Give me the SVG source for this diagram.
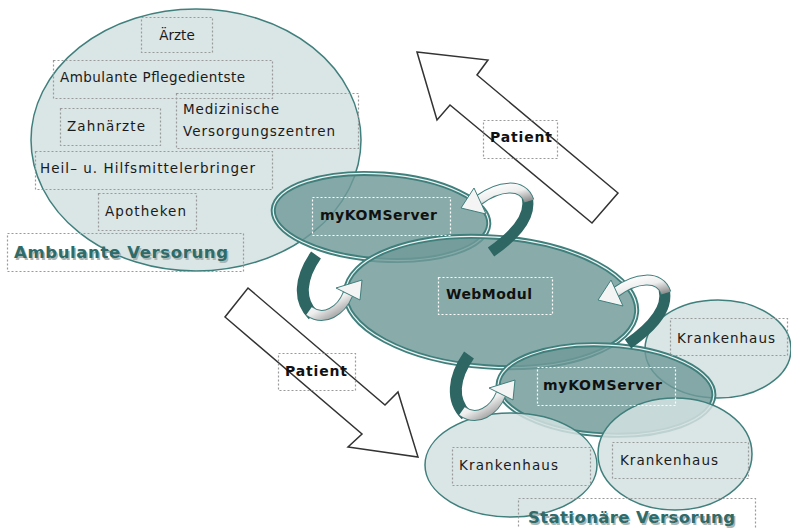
<svg xmlns="http://www.w3.org/2000/svg" width="791" height="528" viewBox="0 0 791 528">
<defs>
<style>
.light{fill:#d3e1e0;fill-opacity:0.85;stroke:#3f7f7c;stroke-width:1.5}
.darkO{fill:none;stroke:#3f7f7c;stroke-width:5}
.darkF{fill:#6f9a98;fill-opacity:0.82}
.darkI{fill:none;stroke:#ffffff;stroke-width:1.2;stroke-opacity:0.9}
.box{fill:none;stroke:#9a9a9a;stroke-width:1.2;stroke-dasharray:2,2}
.wbox{fill:none;stroke:#ffffff;stroke-width:1.2;stroke-dasharray:2,2}
.t{font-family:"DejaVu Sans",Verdana,sans-serif;font-size:13.5px;fill:#1a1a1a}
.b{font-family:"DejaVu Sans",Verdana,sans-serif;font-size:14px;font-weight:bold;fill:#111}
.sec{font-family:"DejaVu Sans",Verdana,sans-serif;font-size:16.5px;font-weight:bold;fill:#2e6b69}
.secS{font-family:"DejaVu Sans",Verdana,sans-serif;font-size:16.5px;font-weight:bold;fill:#a9b4b4}
.pat{fill:#ffffff;stroke:#333333;stroke-width:1.5;stroke-linejoin:miter}
.rib{fill:none;stroke:#2d6663;stroke-linecap:butt}
.wrib{fill:none;stroke-linecap:butt}
</style>
<linearGradient id="wg" x1="0" y1="0" x2="1" y2="1">
<stop offset="0" stop-color="#ffffff"/>
<stop offset="0.5" stop-color="#eeeeee"/>
<stop offset="1" stop-color="#8c8c8c"/>
</linearGradient>
<g id="curlA">
<path class="rib" stroke-width="12" d="M316,255 C300,278 298,300 313,315"/>
<path class="wrib" stroke="#3f7f7c" stroke-width="11" d="M309,311 C324,322 341,311 348,294"/>
<path class="wrib" stroke="url(#wg)" stroke-width="9" d="M309,311 C324,322 341,311 348,294"/>
<polygon points="336,288 362,280 360,300" fill="#f4f4f4" stroke="#3f7f7c" stroke-width="1"/>
</g>
<g id="curlB">
<path class="rib" stroke-width="11" d="M527,197 C533,220 508,240 491,252"/>
<path class="wrib" stroke="#3f7f7c" stroke-width="11" d="M529,201 C523,182 498,186 479,200"/>
<path class="wrib" stroke="url(#wg)" stroke-width="9" d="M529,201 C523,182 498,186 479,200"/>
<polygon points="474,188 461,208 486,214" fill="#f4f4f4" stroke="#3f7f7c" stroke-width="1"/>
</g>
</defs>
<rect width="791" height="528" fill="#ffffff"/>

<g id="patient-up">
<polygon class="pat" points="417,52 488,60 477,75 618,193 592,223 450,105 437,120"/>
</g>
<g id="patient-down">
<polygon class="pat" points="248,288 385,405 398,392 418,457 348,447 362,434 225,317"/>
</g>

<g id="ambulant">
<ellipse class="light" cx="196" cy="140" rx="165" ry="131"/>
</g>

<g id="krankenhaus-right">
<ellipse class="light" cx="718" cy="349" rx="73" ry="49"/>
</g>

<g id="mykom-top">
<g transform="rotate(4 381 217)">
<ellipse class="darkF" cx="381" cy="217" rx="108" ry="43"/>
<ellipse class="darkO" cx="381" cy="217" rx="108" ry="43"/>
<ellipse class="darkI" cx="381" cy="217" rx="108" ry="43"/>
</g>
</g>

<g id="webmodul">
<g transform="rotate(4 491 302)">
<ellipse class="darkF" cx="491" cy="302" rx="146" ry="65"/>
<ellipse class="darkO" cx="491" cy="302" rx="146" ry="65"/>
<ellipse class="darkI" cx="491" cy="302" rx="146" ry="65"/>
</g>
</g>

<g id="mykom-bottom">
<g transform="rotate(3 606 390)">
<ellipse class="darkF" cx="606" cy="390" rx="108" ry="45"/>
<ellipse class="darkO" cx="606" cy="390" rx="108" ry="45"/>
<ellipse class="darkI" cx="606" cy="390" rx="108" ry="45"/>
</g>
</g>

<g id="krankenhaus-bl">
<ellipse class="light" cx="511" cy="465" rx="86" ry="52"/>
</g>
<g id="krankenhaus-br">
<ellipse class="light" cx="675" cy="454" rx="77" ry="56"/>
</g>

<g id="connectors">
<use href="#curlA"/>
<use href="#curlA" transform="translate(153,100)"/>
<use href="#curlB"/>
<use href="#curlB" transform="translate(137,92)"/>
</g>

<g id="labels">
<rect class="box" x="141.5" y="17.5" width="71" height="35"/>
<text class="t" x="177" y="40" text-anchor="middle">Ärzte</text>

<rect class="box" x="53.5" y="60.5" width="219" height="38"/>
<text class="t" x="60" y="82" textLength="185" lengthAdjust="spacing">Ambulante Pflegedientste</text>

<rect class="box" x="60.5" y="108.5" width="100" height="37"/>
<text class="t" x="67" y="131" textLength="78" lengthAdjust="spacing">Zahnärzte</text>

<rect class="box" x="176.5" y="93.5" width="182" height="55"/>
<text class="t" x="183" y="114" textLength="96" lengthAdjust="spacing">Medizinische</text>
<text class="t" x="183" y="136" textLength="152" lengthAdjust="spacing">Versorgungszentren</text>

<rect class="box" x="35.5" y="151.5" width="237" height="38"/>
<text class="t" x="40" y="173" textLength="215" lengthAdjust="spacing">Heil– u. Hilfsmittelerbringer</text>

<rect class="box" x="98.5" y="193.5" width="98" height="37"/>
<text class="t" x="105" y="216" textLength="81" lengthAdjust="spacing">Apotheken</text>

<rect class="box" x="7.5" y="233.5" width="236" height="38"/>
<text class="secS" x="15.5" y="259.5" textLength="214" lengthAdjust="spacing">Ambulante Versorung</text>
<text class="sec" x="14" y="258" textLength="214" lengthAdjust="spacing">Ambulante Versorung</text>

<rect class="wbox" x="312.5" y="197.5" width="138" height="38"/>
<text class="b" x="320" y="220" textLength="117" lengthAdjust="spacing">myKOMServer</text>

<rect class="wbox" x="438.5" y="277.5" width="114" height="37"/>
<text class="b" x="446" y="299" textLength="86" lengthAdjust="spacing">WebModul</text>

<rect class="wbox" x="537.5" y="367.5" width="138" height="38"/>
<text class="b" x="543" y="390" textLength="119" lengthAdjust="spacing">myKOMServer</text>

<rect class="box" x="670.5" y="318.5" width="117" height="37"/>
<text class="t" x="677" y="343" textLength="98" lengthAdjust="spacing">Krankenhaus</text>

<rect class="box" x="452.5" y="447.5" width="138" height="38"/>
<text class="t" x="459" y="470" textLength="99" lengthAdjust="spacing">Krankenhaus</text>

<rect class="box" x="612.5" y="442.5" width="136" height="36"/>
<text class="t" x="620" y="465" textLength="98" lengthAdjust="spacing">Krankenhaus</text>

<rect class="box" x="518.5" y="498.5" width="237" height="35"/>
<text class="secS" x="529.5" y="524.5" textLength="207" lengthAdjust="spacing">Stationäre Versorung</text>
<text class="sec" x="528" y="523" textLength="207" lengthAdjust="spacing">Stationäre Versorung</text>

<rect class="box" x="483.5" y="120.5" width="74" height="38"/>
<text class="b" x="490" y="142" textLength="62" lengthAdjust="spacing">Patient</text>

<rect class="box" x="278.5" y="353.5" width="77" height="37"/>
<text class="b" x="285" y="376" textLength="62" lengthAdjust="spacing">Patient</text>
</g>
</svg>
